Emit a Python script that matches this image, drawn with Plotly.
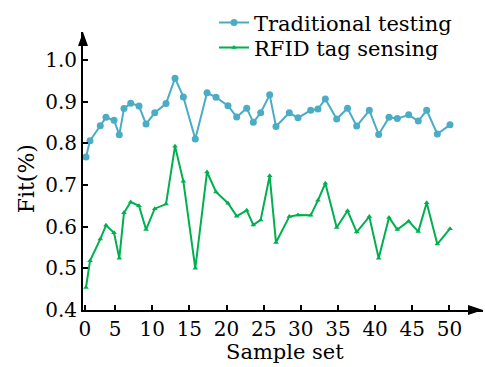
import plotly.graph_objects as go

sample_x = [1.09, 1.63, 3.01, 3.78, 4.86, 5.57, 6.20, 7.11, 8.22, 9.17, 10.34, 11.86, 13.07, 14.19,
            15.80, 17.38, 18.59, 20.20, 21.37, 22.72, 23.61, 24.60, 25.81, 26.66, 28.45, 29.62,
            31.33, 32.31, 33.30, 34.83, 36.29, 37.52, 39.22, 40.48, 41.87, 42.99, 44.52, 45.81,
            46.94, 48.37, 50.08]

traditional = [0.767, 0.806, 0.842, 0.862, 0.855, 0.820, 0.883, 0.896, 0.889, 0.846, 0.873, 0.895,
               0.956, 0.911, 0.810, 0.921, 0.910, 0.890, 0.863, 0.884, 0.850, 0.873, 0.916, 0.840,
               0.873, 0.861, 0.879, 0.882, 0.906, 0.858, 0.884, 0.841, 0.879, 0.821, 0.862, 0.859,
               0.868, 0.853, 0.879, 0.822, 0.844]

rfid = [0.454, 0.518, 0.570, 0.603, 0.585, 0.524, 0.633, 0.659, 0.650, 0.593, 0.643, 0.654,
        0.793, 0.709, 0.500, 0.731, 0.683, 0.656, 0.625, 0.639, 0.604, 0.616, 0.722, 0.562,
        0.624, 0.628, 0.627, 0.663, 0.704, 0.598, 0.638, 0.587, 0.624, 0.524, 0.622, 0.593,
        0.613, 0.588, 0.657, 0.558, 0.595]

x_tick_vals = [0.95, 5, 10, 15, 20, 25, 30, 35, 40, 45, 50]
x_tick_text = ["0", "5", "10", "15", "20", "25", "30", "35", "40", "45", "50"]
y_tick_vals = [0.4, 0.5, 0.6, 0.7, 0.8, 0.9, 1.0]
y_tick_text = ["0.4", "0.5", "0.6", "0.7", "0.8", "0.9", "1.0"]

BLUE = "#4BACC6"
GREEN = "#00B050"
FONT = "DejaVu Serif"

fig = go.Figure()
fig.add_trace(go.Scatter(
    x=sample_x, y=traditional, name="Traditional testing", mode="lines+markers",
    line=dict(color=BLUE, width=2), marker=dict(symbol="circle", size=7, color=BLUE),
    cliponaxis=False, legend="legend"))
fig.add_trace(go.Scatter(
    x=sample_x, y=rfid, name="RFID tag sensing", mode="lines+markers",
    line=dict(color=GREEN, width=2), marker=dict(symbol="triangle-up", size=5, color=GREEN),
    cliponaxis=False, legend="legend2"))

axis_common = dict(showgrid=False, zeroline=False, showline=True, linecolor="black", linewidth=2,
                   ticks="inside", ticklen=5, tickwidth=1.5, tickcolor="black",
                   tickfont=dict(family=FONT, size=20, color="black"))

fig.update_xaxes(range=[0.686, 54.52], tickmode="array", tickvals=x_tick_vals,
                 ticktext=x_tick_text, **axis_common)
fig.update_yaxes(range=[0.4, 1.0667], tickmode="array", tickvals=y_tick_vals,
                 ticktext=y_tick_text, **axis_common)

# axis arrowheads
fig.add_shape(type="path", xref="paper", yref="paper",
              path="M 1.0 0 L 0.9625 0.0183 L 0.9625 -0.0183 Z",
              fillcolor="black", line=dict(color="black", width=0))
fig.add_shape(type="path", xref="paper", yref="paper",
              path="M 0 1.0 L -0.0125 0.95 L 0.0125 0.95 Z",
              fillcolor="black", line=dict(color="black", width=0))

fig.add_annotation(text="Fit(%)", xref="paper", yref="paper", x=-0.1425, y=0.47,
                   xanchor="center", yanchor="middle",
                   textangle=-90, showarrow=False, font=dict(family=FONT, size=22, color="black"))
fig.add_annotation(text="Sample set", xref="paper", yref="paper", x=0.505, y=-0.152,
                   xanchor="center", yanchor="middle",
                   showarrow=False, font=dict(family=FONT, size=21, color="black"))

legend_common = dict(xanchor="left", yanchor="middle", bgcolor="rgba(0,0,0,0)",
                     font=dict(family=FONT, size=21, color="black"), itemwidth=30)

fig.update_layout(
    width=485, height=367,
    font=dict(family=FONT, color="black"),
    margin=dict(l=83, r=2, t=10, b=57),
    plot_bgcolor="white", paper_bgcolor="white",
    showlegend=True,
    legend=dict(x=0.3275, y=1.033, **legend_common),
    legend2=dict(x=0.3275, y=0.943, **legend_common),
)

fig.write_html("out.html")
